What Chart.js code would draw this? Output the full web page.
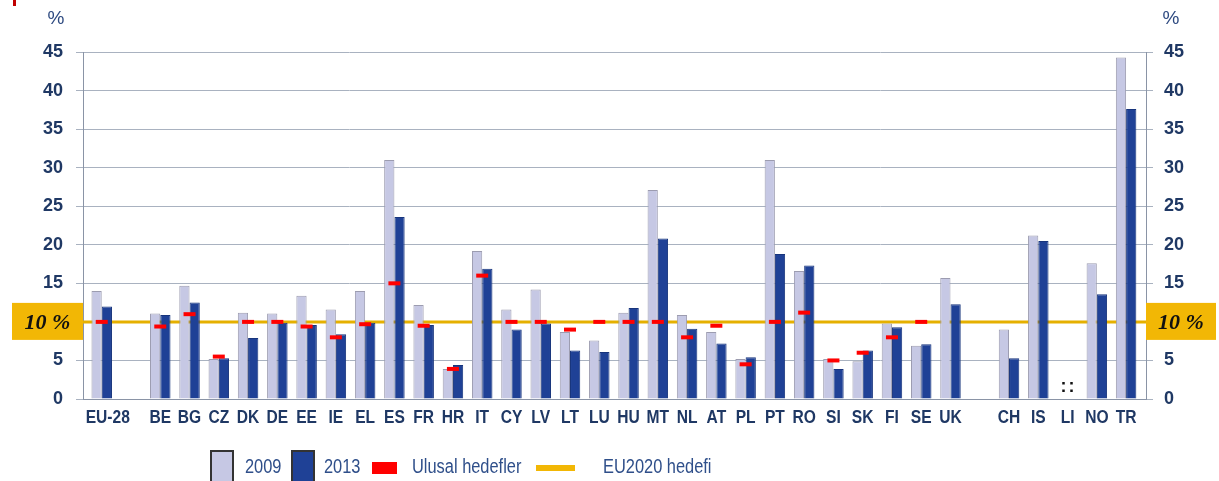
<!DOCTYPE html>
<html>
<head>
<meta charset="utf-8">
<script src="https://cdn.jsdelivr.net/npm/chart.js@4.4.1/dist/chart.umd.min.js"></script>
<style>
html, body { margin: 0; padding: 0; background: #fff; }
#wrap { position: relative; width: 1219px; height: 481px; }
#mark { position: absolute; left: 13px; top: 0; width: 3px; height: 6px; background: #c00000; }
</style>
</head>
<body>
<div id="wrap">
  <canvas id="chart" width="1219" height="481"></canvas>
  <div id="mark"></div>
</div>
<script>
// categories ('' = spacer slot)
const labels = ['EU-28', '', 'BE', 'BG', 'CZ', 'DK', 'DE', 'EE', 'IE', 'EL', 'ES', 'FR', 'HR', 'IT', 'CY', 'LV',
  'LT', 'LU', 'HU', 'MT', 'NL', 'AT', 'PL', 'PT', 'RO', 'SI', 'SK', 'FI', 'SE', 'UK', '', 'CH', 'IS', 'LI', 'NO', 'TR'];

const values2009 = [14.0, null, 11.1, 14.7, 5.2, 11.2, 11.1, 13.4, 11.6, 14.0, 31.0, 12.2, 3.9, 19.2, 11.6, 14.2,
  8.7, 7.6, 11.2, 27.1, 10.9, 8.7, 5.2, 31.0, 16.6, 5.2, 4.9, 9.8, 6.9, 15.7, null, 9.0, 21.2, null, 17.6, 44.3];

const values2013 = [12.0, null, 10.9, 12.5, 5.3, 7.9, 9.9, 9.6, 8.4, 9.9, 23.6, 9.6, 4.4, 16.9, 9.0, 9.8,
  6.3, 6.1, 11.8, 20.8, 9.1, 7.2, 5.4, 18.8, 17.3, 3.9, 6.3, 9.3, 7.1, 12.3, null, 5.3, 20.5, null, 13.6, 37.6];

// national targets (Ulusal hedefler)
const nationalTargets = [10, null, 9.4, 11.0, 5.5, 10, 10, 9.4, 8, 9.7, 15, 9.5, 3.9, 16, 10, 10,
  9, 10, 10, 10, 8, 9.5, 4.5, 10, 11.2, 5, 6, 8, 10, null, null, null, null, null, null, null];

const eu2020Target = 10;
const yTicks = [0, 5, 10, 15, 20, 25, 30, 35, 40, 45];
const missing = ['LI'];   // ':' = no data

const navy = '#1f3864';
const gold = '#f2b705';
const squeeze = 0.82;     // no narrow font installed, so squeeze Liberation Sans

function narrowText(ctx, text, x, y, align) {
  const w = ctx.measureText(text).width * squeeze;
  let left = x;
  if (align === 'center') left = x - w / 2;
  ctx.save();
  ctx.translate(left, y);
  ctx.scale(squeeze, 1);
  ctx.textAlign = 'left';
  ctx.fillText(text, 0, 0);
  ctx.restore();
}

const extras = {
  id: 'extras',
  beforeDatasetsDraw(chart) {
    const { ctx, chartArea, scales } = chart;
    const y = scales.y.getPixelForValue(eu2020Target);
    ctx.save();
    ctx.strokeStyle = '#e5b000';
    ctx.lineWidth = 3;
    ctx.beginPath();
    ctx.moveTo(chartArea.left, y);
    ctx.lineTo(chartArea.right, y);
    ctx.stroke();
    ctx.restore();
  },
  afterDraw(chart) {
    const { ctx, chartArea, scales } = chart;
    ctx.save();
    ctx.textBaseline = 'middle';

    // x labels
    ctx.fillStyle = navy;
    ctx.font = "bold 19px 'Liberation Sans', sans-serif";
    labels.forEach((l, i) => {
      if (!l) return;
      let x = scales.x.getPixelForValue(i);
      if (l === 'EU-28') x += 6;
      narrowText(ctx, l, x, 418, 'center');
    });

    // 10 % boxes on both sides
    const y = scales.y.getPixelForValue(eu2020Target);
    ctx.fillStyle = gold;
    ctx.fillRect(12, y - 19, chartArea.left - 12, 37);
    ctx.fillRect(chartArea.right, y - 19, 70, 37);
    ctx.fillStyle = '#111';
    ctx.font = "italic bold 22px 'Liberation Serif', serif";
    ctx.textAlign = 'center';
    ctx.fillText(eu2020Target + ' %', (12 + chartArea.left) / 2, y + 1);
    ctx.fillText(eu2020Target + ' %', chartArea.right + 35, y + 1);

    // % unit labels
    ctx.fillStyle = '#2e4a80';
    ctx.font = "19px 'Liberation Sans', sans-serif";
    ctx.fillText('%', 56, 19);
    ctx.fillText('%', 1171, 19);

    // missing data markers
    ctx.fillStyle = '#111';
    ctx.font = "bold 18px 'Liberation Sans', sans-serif";
    missing.forEach(m => {
      const x = scales.x.getPixelForValue(labels.indexOf(m));
      const my = scales.y.getPixelForValue(1.5);
      ctx.fillText(':', x - 4, my);
      ctx.fillText(':', x + 4, my);
    });

    // legend
    const ly = 467;
    ctx.lineWidth = 2;
    ctx.strokeStyle = '#333';
    ctx.fillStyle = '#c6c8e4';
    ctx.fillRect(211, 451, 22, 32);
    ctx.strokeRect(211, 451, 22, 32);
    ctx.fillStyle = '#1f4196';
    ctx.fillRect(292, 451, 22, 32);
    ctx.strokeRect(292, 451, 22, 32);
    ctx.fillStyle = '#ff0000';
    ctx.fillRect(372, 462, 25, 12);
    ctx.fillStyle = gold;
    ctx.fillRect(536, 465, 39, 6);
    ctx.fillStyle = '#2f4f8a';
    ctx.font = "20px 'Liberation Sans', sans-serif";
    narrowText(ctx, '2009', 245, ly, 'left');
    narrowText(ctx, '2013', 324, ly, 'left');
    narrowText(ctx, 'Ulusal hedefler', 412, ly, 'left');
    narrowText(ctx, 'EU2020 hedefi', 603, ly, 'left');
    ctx.restore();
  }
};

const axisFont = { family: "'Liberation Sans', sans-serif", size: 18, weight: 'bold' };

new Chart(document.getElementById('chart'), {
  type: 'bar',
  data: {
    labels: labels,
    datasets: [
      {
        type: 'line',
        label: 'Ulusal hedefler',
        data: nationalTargets,
        showLine: false,
        pointStyle: 'line',
        pointRadius: 6,
        pointBorderWidth: 4,
        borderColor: '#ff0000',
        backgroundColor: '#ff0000',
        order: 0
      },
      {
        label: '2009',
        data: values2009,
        backgroundColor: '#c6c8e4',
        borderColor: '#9c9cb0',
        borderWidth: 1,
        order: 1
      },
      {
        label: '2013',
        data: values2013,
        backgroundColor: '#1f4196',
        borderColor: '#17347c',
        borderWidth: 1,
        order: 1
      }
    ]
  },
  plugins: [extras],
  options: {
    responsive: false,
    animation: false,
    layout: { padding: { top: 52, left: 0, right: 0, bottom: 0 } },
    datasets: { bar: { categoryPercentage: 0.7, barPercentage: 1.0 } },
    plugins: { legend: { display: false }, tooltip: { enabled: false } },
    scales: {
      x: {
        grid: { display: false, drawTicks: false },
        border: { display: true, color: '#8a94a6' },
        ticks: { display: false, autoSkip: false },
        // leave a few px between the outer bars and the axes, like the original
        afterBuildTicks: s => { s._startValue -= 0.14; s._valueRange += 0.32; },
        afterFit: s => { s.height = 82; }
      },
      y: {
        position: 'left',
        min: 0, max: 45,
        afterBuildTicks: s => { s.ticks = yTicks.map(v => ({ value: v })); },
        grid: { color: '#a9b2c0', tickLength: 7, drawTicks: true },
        border: { display: true, color: '#8a94a6' },
        ticks: { color: navy, font: axisFont, padding: 13 },
        afterFit: s => { s.width = 83; }
      },
      y2: {
        position: 'right',
        min: 0, max: 45,
        afterBuildTicks: s => { s.ticks = yTicks.map(v => ({ value: v })); },
        grid: { color: '#a9b2c0', tickLength: 7, drawOnChartArea: false, drawTicks: true },
        border: { display: true, color: '#8a94a6' },
        ticks: { color: navy, font: axisFont, padding: 11 },
        afterFit: s => { s.width = 73; }
      }
    }
  }
});
</script>
</body>
</html>
